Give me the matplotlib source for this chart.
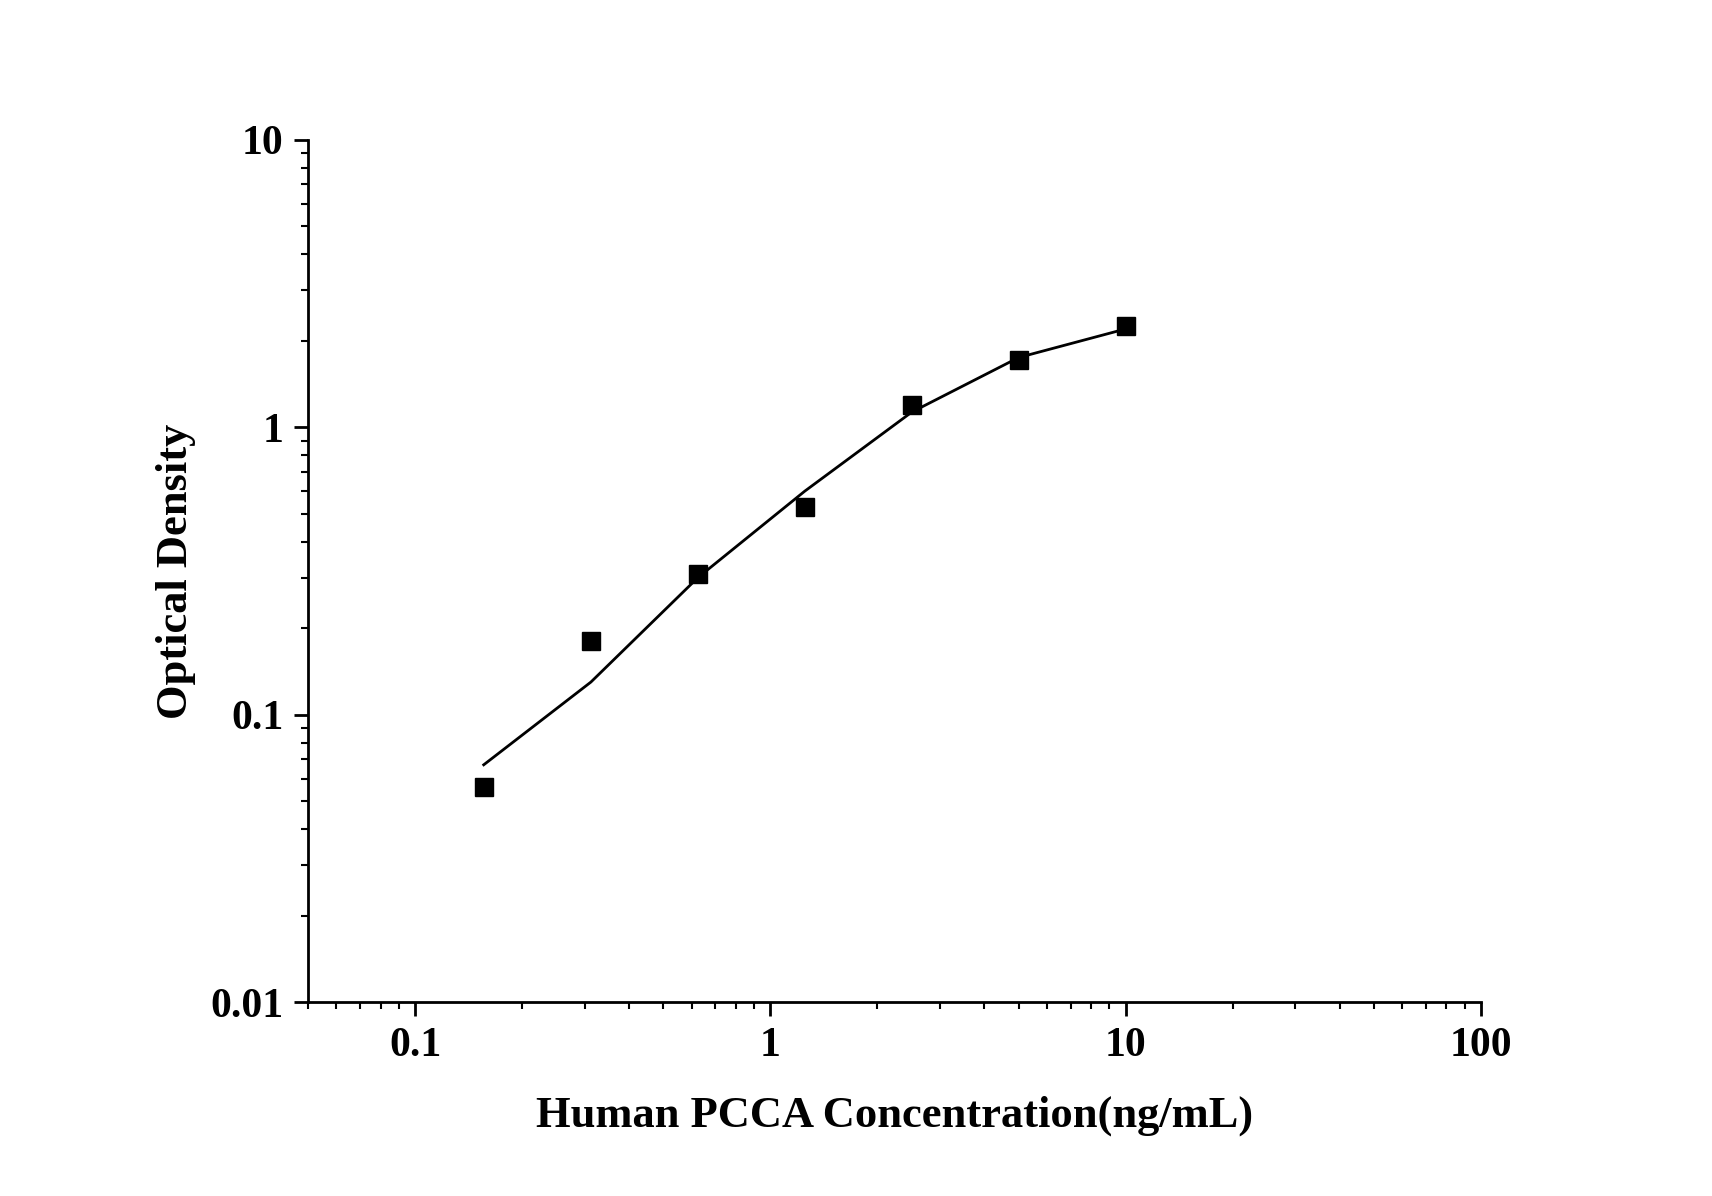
import matplotlib
matplotlib.use("Agg")
import matplotlib.pyplot as plt
from matplotlib.ticker import LogLocator, FixedLocator, FixedFormatter

plt.rcParams["font.family"] = ["Liberation Serif", "DejaVu Serif"]
plt.rcParams["font.weight"] = "bold"

conc = [0.156, 0.3125, 0.625, 1.25, 2.5, 5, 10]
od = [0.056, 0.18, 0.31, 0.53, 1.2, 1.72, 2.25]
fit_od = [0.067, 0.13, 0.30, 0.60, 1.13, 1.75, 2.2]

fig = plt.figure(figsize=(17.12, 11.96), dpi=100)
ax = fig.add_axes([0.18, 0.162, 0.685, 0.721])

ax.plot(conc, fit_od, color="black", lw=2)
ax.plot(conc, od, "s", color="black", ms=13, ls="none")

ax.set_xscale("log")
ax.set_yscale("log")
ax.set_xlim(0.05, 100)
ax.set_ylim(0.01, 10)

xt = [0.1, 1, 10, 100]
ax.xaxis.set_major_locator(FixedLocator(xt))
ax.xaxis.set_major_formatter(FixedFormatter(["0.1", "1", "10", "100"]))
yt = [0.01, 0.1, 1, 10]
ax.yaxis.set_major_locator(FixedLocator(yt))
ax.yaxis.set_major_formatter(FixedFormatter(["0.01", "0.1", "1", "10"]))
ax.xaxis.set_minor_locator(LogLocator(base=10, subs=range(2, 10), numticks=20))
ax.yaxis.set_minor_locator(LogLocator(base=10, subs=range(2, 10), numticks=20))
ax.xaxis.set_minor_formatter(plt.NullFormatter())
ax.yaxis.set_minor_formatter(plt.NullFormatter())

for s in ["top", "right"]:
    ax.spines[s].set_visible(False)
for s in ["left", "bottom"]:
    ax.spines[s].set_linewidth(2)
ax.tick_params(which="major", length=10, width=2, labelsize=30, pad=8)
ax.tick_params(which="minor", length=5, width=1.5)

ax.set_xlabel("Human PCCA Concentration(ng/mL)", fontsize=32, fontweight="bold", labelpad=22)
ax.set_ylabel("Optical Density", fontsize=32, fontweight="bold", labelpad=10)

fig.savefig("out.png", dpi=100)
